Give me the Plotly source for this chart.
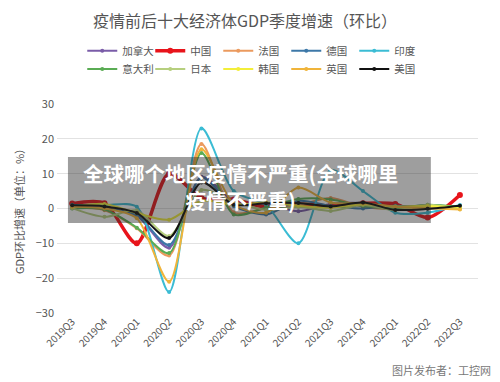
import plotly.graph_objects as go

quarters = ["2019Q3", "2019Q4", "2020Q1", "2020Q2", "2020Q3", "2020Q4", "2021Q1",
            "2021Q2", "2021Q3", "2021Q4", "2022Q1", "2022Q2", "2022Q3"]

canada = [0.3, 0.1, -2.1, -11.3, 9.1, 2.2, 1.3, -0.8, 1.3, 1.6, 0.7, 0.8, 0.7]
china = [1.4, 1.5, -10.0, 10.0, 3.0, 2.6, 0.4, 1.3, 0.7, 1.5, 1.3, -2.6, 3.9]
france = [0.2, -0.5, -5.7, -13.5, 18.5, -1.1, 0.1, 1.0, 3.0, 0.5, -0.2, 0.4, 0.2]
germany = [0.3, 0.0, -1.9, -10.5, 8.9, 0.7, -1.7, 2.2, 0.8, 0.0, 0.8, 0.1, 0.3]
india = [1.0, 1.0, 0.5, -24.0, 23.0, 5.0, 1.0, -10.0, 11.0, 5.0, -1.2, -1.2, 1.0]
italy = [0.0, -0.3, -5.5, -12.8, 15.9, -1.7, 0.3, 2.7, 2.6, 0.7, 0.1, 1.1, 0.5]
japan = [0.1, -2.4, -0.6, -7.9, 5.3, 1.9, -0.4, 0.5, -0.7, 1.0, -0.5, 1.1, -0.2]
korea = [0.4, 1.3, -1.3, -3.2, 2.2, 1.1, 1.7, 0.8, 0.2, 1.2, 0.6, 0.7, 0.3]
uk = [0.5, 0.0, -2.8, -21.0, 17.0, 1.3, -1.2, 6.0, 1.7, 1.5, 0.5, 0.1, -0.3]
usa = [0.9, 0.6, -1.3, -8.5, 7.5, 1.1, 1.5, 1.6, 0.6, 1.7, -0.4, -0.1, 0.8]

row1 = [("加拿大", canada, "#7a5ca8", 2), ("中国", china, "#e8141b", 3.5),
        ("法国", france, "#eb9a5e", 2), ("德国", germany, "#3d78a8", 2),
        ("印度", india, "#3bbcd4", 2)]
row2 = [("意大利", italy, "#5aac54", 2), ("日本", japan, "#b6cf7e", 2),
        ("韩国", korea, "#f3ee3a", 2), ("英国", uk, "#f0b43a", 2),
        ("美国", usa, "#111111", 2)]

FONT = "Noto Sans CJK SC"
fig = go.Figure()
for legend_name, row in (("legend", row1), ("legend2", row2)):
    for name, vals, color, w in row:
        fig.add_trace(go.Scatter(
            x=quarters, y=vals, name=name, mode="lines+markers",
            line=dict(color=color, width=w, shape="spline", smoothing=0.8),
            marker=dict(color=color, size=6 if name == "中国" else 4),
            legend=legend_name,
        ))

legend_common = dict(orientation="h", xanchor="left", x=0.06, yanchor="middle",
                     font=dict(family=FONT, size=10.5, color="#555555"),
                     entrywidth=23, entrywidthmode="pixels",
                     itemwidth=30, bgcolor="rgba(0,0,0,0)")

fig.update_layout(
    width=500, height=382,
    margin=dict(l=57, r=22, t=104, b=69),
    paper_bgcolor="white", plot_bgcolor="white",
    font=dict(family=FONT, color="#555555"),
    title=dict(text="疫情前后十大经济体GDP季度增速（环比）", x=0.49, xanchor="center",
               y=0.943, yanchor="middle", font=dict(family=FONT, size=16, color="#555555")),
    legend=dict(**legend_common, y=1.255),
    legend2=dict(**legend_common, y=1.168),
    xaxis=dict(type="category", range=[-0.47, 12.56], tickangle=-45,
               tickfont=dict(size=10, color="#555555"), showgrid=False,
               showline=False, zeroline=False, ticks="", automargin=False),
    yaxis=dict(range=[-30, 30], dtick=10, tickfont=dict(size=11, color="#555555"),
               gridcolor="#e2e2e2", gridwidth=1, zeroline=False, automargin=False,
               ticklabelstandoff=2,
               title=dict(text="GDP环比增速（单位：%）", font=dict(size=11, color="#555555"),
                          standoff=8)),
    shapes=[dict(type="rect", xref="paper", yref="paper", x0=0.026, x1=0.888,
                 y0=0.431, y1=0.746, fillcolor="rgba(40,40,40,0.45)", line=dict(width=0),
                 layer="above")],
    annotations=[
        dict(text="<b>全球哪个地区疫情不严重(全球哪里<br>疫情不严重)</b>", xref="paper", yref="paper",
             x=0.437, y=0.603, xanchor="center", yanchor="middle", showarrow=False,
             font=dict(family=FONT, size=20.5, color="white"), align="center"),
        dict(text="图片发布者：工控网", xref="paper", yref="paper", x=1.035, y=-0.275,
             xanchor="right", yanchor="middle", showarrow=False,
             font=dict(family=FONT, size=11, color="#777777")),
    ],
)

fig.write_html("out.html", config={"displayModeBar": False},
               post_script="document.body.style.margin='0px';")
